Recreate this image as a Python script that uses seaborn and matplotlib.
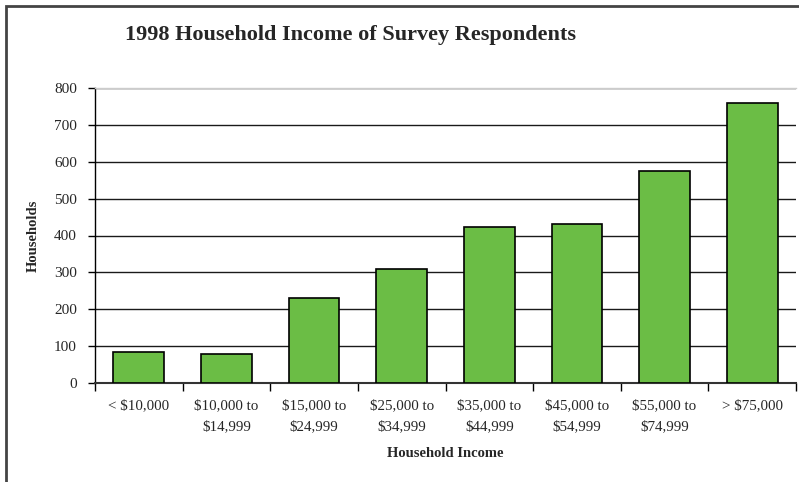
import matplotlib
matplotlib.use("Agg")
import matplotlib.pyplot as plt
from matplotlib.patches import Rectangle
from matplotlib.ticker import FixedLocator
import seaborn as sns
import pandas as pd

categories = ["< $10,000", "$10,000 to\n$14,999", "$15,000 to\n$24,999",
              "$25,000 to\n$34,999", "$35,000 to\n$44,999", "$45,000 to\n$54,999",
              "$55,000 to\n$74,999", "> $75,000"]
households = [84, 79, 230, 309, 423, 431, 575, 759]
y_ticks = [0, 100, 200, 300, 400, 500, 600, 700, 800]

sns.set_style("white")
plt.rcParams["font.family"] = ["Liberation Serif", "DejaVu Serif"]

df = pd.DataFrame({"income": categories, "households": households})

fig = plt.figure(figsize=(7.99, 4.82), dpi=100)
ax = fig.add_axes([95 / 799, 99 / 482, 701 / 799, 295 / 482])

# frame around the figure (left and top edges visible)
fig.patches.append(Rectangle((6 / 799, -0.05), 1.2, (476 / 482) + 0.05,
                             transform=fig.transFigure, fill=False,
                             edgecolor="#444444", linewidth=2.0, zorder=0))

sns.barplot(data=df, x="income", y="households", color="#6BBD45",
            saturation=1, width=0.58, edgecolor="black", linewidth=1.2,
            ax=ax, zorder=3)

ax.set_ylim(0, 800)
ax.set_xlim(-0.5, len(categories) - 0.5)
ax.set_yticks(y_ticks)
ax.yaxis.grid(True, color="#1a1a1a", linewidth=1.0, zorder=0)
ax.set_axisbelow(True)

ax.spines["right"].set_visible(False)
ax.spines["top"].set_color("#cccccc")
ax.spines["top"].set_linewidth(1.0)
ax.spines["left"].set_color("black")
ax.spines["left"].set_linewidth(1.0)
ax.spines["bottom"].set_color("#333333")
ax.spines["bottom"].set_linewidth(1.5)

# category boundary ticks on x axis
ax.xaxis.set_major_locator(FixedLocator(range(len(categories))))
ax.set_xticklabels(categories, fontsize=10.8, linespacing=1.75)
ax.tick_params(axis="x", which="major", length=0, pad=12)
ax.xaxis.set_minor_locator(FixedLocator([i - 0.5 for i in range(len(categories) + 1)]))
ax.tick_params(axis="x", which="minor", bottom=True, length=6, width=1.0, color="black", direction="out")
ax.tick_params(axis="y", left=True, length=5, width=1.0, color="black", direction="out", labelsize=11, pad=8)
for lbl in ax.get_xticklabels():
    lbl.set_verticalalignment("top")

ax.set_xlabel("Household Income", fontsize=10.5, fontweight="bold", labelpad=10)
ax.set_ylabel("Households", fontsize=10.5, fontweight="bold", labelpad=10)

fig.text(125 / 799, 1 - 35 / 482, "1998 Household Income of Survey Respondents",
         fontsize=16, fontweight="bold", ha="left", va="center")

fig.savefig("out.png", dpi=100)
